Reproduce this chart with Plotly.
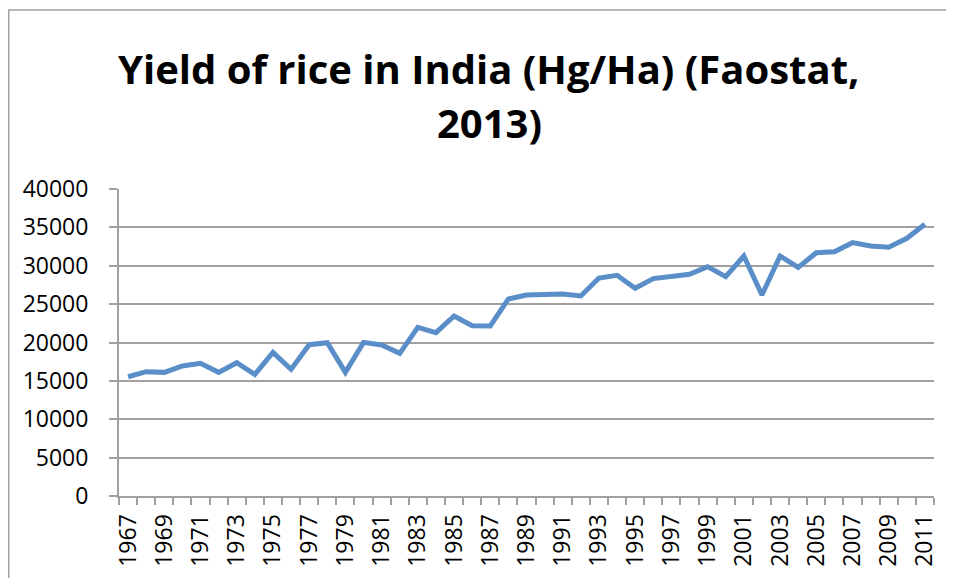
import plotly.graph_objects as go

years = list(range(1967, 2012))
yield_hg_ha = [15540, 16200, 16110, 16940, 17290, 16110, 17370, 15850, 18720, 16500,
               19720, 19980, 16110, 20020, 19670, 18590, 21980, 21280, 23450, 22190,
               22150, 25670, 26190, 26230, 26320, 26060, 28400, 28750, 27060, 28320,
               28600, 28880, 29880, 28580, 31270, 26190, 31270, 29790, 31700, 31830,
               33010, 32570, 32400, 33570, 35400]
title_line1 = "Yield of rice in India (Hg/Ha) (Faostat,"
title_line2 = "2013)"
y_ticks = [0, 5000, 10000, 15000, 20000, 25000, 30000, 35000, 40000]
x_tick_years = list(range(1967, 2012, 2))

OFF = 8  # page body margin
W, H = 954 - OFF, 578 - OFF
# target plot area on screen: left 119, right 934, top 189, bottom 496
L = 119 - OFF
T = 189 - OFF
R = W - (934 - OFF)
B = H - (496 - OFF)
pw, ph = W - L - R, H - T - B

def px_x(x):
    return (x - OFF - L) / pw

def px_y(y):
    return (H - B - (y - OFF)) / ph

fig = go.Figure()
fig.add_trace(go.Scatter(
    x=years, y=yield_hg_ha, mode="lines",
    line=dict(color="#5a8ec8", width=5),
    showlegend=False, hoverinfo="x+y"))

grey = "#a0a0a0"
fig.update_layout(
    width=W, height=H,
    margin=dict(l=L, r=R, t=T, b=B, autoexpand=False),
    paper_bgcolor="white", plot_bgcolor="white",
    font=dict(family="Open Sans", color="black"),
    xaxis=dict(
        range=[1966.5, 2011.5], tickmode="array", tickvals=x_tick_years,
        ticktext=[str(v) for v in x_tick_years], tickangle=-90,
        showgrid=False, zeroline=False, showline=True, linecolor=grey, linewidth=2,
        ticks="outside", ticklen=7, tickcolor="rgba(0,0,0,0)",
        ticklabelstandoff=0,
        tickfont=dict(family="Open Sans", size=23, color="black"),
        minor=dict(ticks="outside", tick0=1966.5, dtick=1, ticklen=7,
                   tickcolor=grey, tickwidth=2, showgrid=False),
    ),
    yaxis=dict(
        range=[0, 40000], tickmode="array", tickvals=y_ticks,
        ticktext=[str(v) for v in y_ticks],
        showgrid=True, gridcolor=grey, gridwidth=2, zeroline=False,
        showline=True, linecolor=grey, linewidth=2,
        ticks="outside", ticklen=8, tickcolor=grey, tickwidth=2,
        ticklabelstandoff=16,
        tickfont=dict(family="Open Sans", size=23, color="black"),
    ),
)

fig.add_annotation(text="<b>" + title_line1 + "</b>", xref="paper", yref="paper",
                   x=px_x(488), y=px_y(68), xanchor="center", yanchor="middle",
                   showarrow=False, font=dict(family="Open Sans", size=40, color="black"))
fig.add_annotation(text="<b>" + title_line2 + "</b>", xref="paper", yref="paper",
                   x=px_x(489), y=px_y(123), xanchor="center", yanchor="middle",
                   showarrow=False, font=dict(family="Open Sans", size=40, color="black"))

fig.add_shape(type="rect", xref="paper", yref="paper",
              x0=px_x(8.75), x1=px_x(990), y0=px_y(620), y1=px_y(10),
              line=dict(color="#a0a0a0", width=1.5), fillcolor="rgba(0,0,0,0)", layer="below")

fig.write_html("out.html")
